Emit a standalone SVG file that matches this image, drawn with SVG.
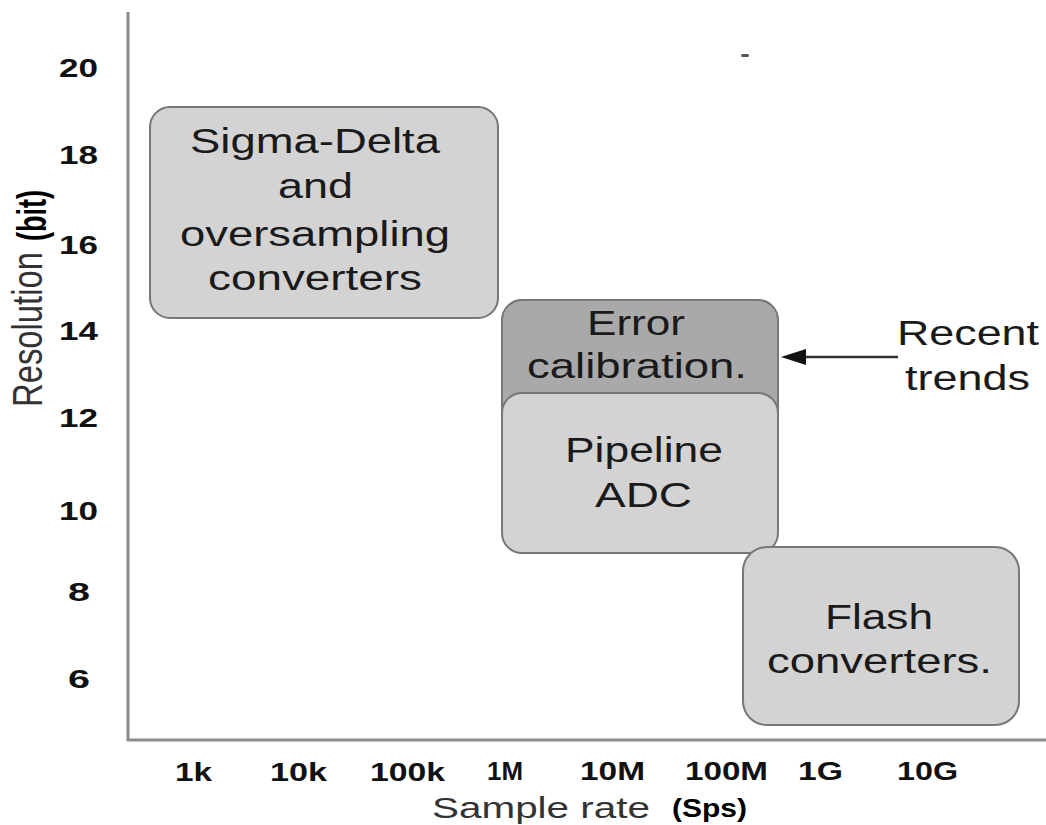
<svg xmlns="http://www.w3.org/2000/svg" width="1046" height="825" viewBox="0 0 1046 825">
<style>
.box{fill:#d3d3d3;stroke:#777;stroke-width:2}
.dark{fill:#a9a9a9}
.bt{font-family:"Liberation Sans",Arial,sans-serif;font-size:35px;fill:#1a1a1a}
.tick{font-family:"Liberation Sans",Arial,sans-serif;font-size:26px;font-weight:bold;fill:#111}
.axis{stroke:#8c8c8c;stroke-width:3;fill:none}
.lbl{font-family:"Liberation Sans",Arial,sans-serif;font-size:29px;fill:#333}
.lblb{font-family:"Liberation Sans",Arial,sans-serif;font-weight:bold;fill:#000}
</style>
<rect width="1046" height="825" fill="#fff"/>
<g id="axes">
<line class="axis" x1="128" y1="12" x2="128" y2="741"/>
<line class="axis" x1="127" y1="740" x2="1046" y2="740"/>
<rect x="741" y="54" width="8" height="3" rx="1.5" fill="#555"/>
</g>
<g id="y-ticks">
<text class="tick" x="59" y="77" textLength="39" lengthAdjust="spacingAndGlyphs">20</text>
<text class="tick" x="59" y="164" textLength="39" lengthAdjust="spacingAndGlyphs">18</text>
<text class="tick" x="59" y="254" textLength="39" lengthAdjust="spacingAndGlyphs">16</text>
<text class="tick" x="59" y="340" textLength="39" lengthAdjust="spacingAndGlyphs">14</text>
<text class="tick" x="59" y="427" textLength="39" lengthAdjust="spacingAndGlyphs">12</text>
<text class="tick" x="59" y="520" textLength="39" lengthAdjust="spacingAndGlyphs">10</text>
<text class="tick" x="68" y="601" textLength="22" lengthAdjust="spacingAndGlyphs">8</text>
<text class="tick" x="68" y="688" textLength="22" lengthAdjust="spacingAndGlyphs">6</text>
</g>
<g id="x-ticks">
<text class="tick" x="175" y="781" textLength="37" lengthAdjust="spacingAndGlyphs">1k</text>
<text class="tick" x="270" y="781" textLength="57" lengthAdjust="spacingAndGlyphs">10k</text>
<text class="tick" x="370" y="781" textLength="75" lengthAdjust="spacingAndGlyphs">100k</text>
<text class="tick" x="487" y="780" textLength="36" lengthAdjust="spacingAndGlyphs">1M</text>
<text class="tick" x="580" y="780" textLength="65" lengthAdjust="spacingAndGlyphs">10M</text>
<text class="tick" x="685" y="780" textLength="83" lengthAdjust="spacingAndGlyphs">100M</text>
<text class="tick" x="798" y="780" textLength="45" lengthAdjust="spacingAndGlyphs">1G</text>
<text class="tick" x="897" y="780" textLength="61" lengthAdjust="spacingAndGlyphs">10G</text>
</g>
<g id="axis-titles">
<text class="lbl" x="432" y="818" textLength="218" lengthAdjust="spacingAndGlyphs">Sample rate</text>
<text class="lblb" x="672" y="817" font-size="26" textLength="75" lengthAdjust="spacingAndGlyphs">(Sps)</text>
<text class="lbl" transform="translate(42,407) rotate(-90) scale(1,1.3)" textLength="155" lengthAdjust="spacingAndGlyphs" style="font-size:32px">Resolution</text>
<text class="lblb" font-size="27" transform="translate(46,241) rotate(-90) scale(1,1.5)" textLength="51" lengthAdjust="spacingAndGlyphs">(bit)</text>
</g>
<g id="sigma-delta">
<rect class="box" x="150" y="107" width="348" height="211" rx="20"/>
<text class="bt" x="190" y="153" textLength="250" lengthAdjust="spacingAndGlyphs">Sigma-Delta</text>
<text class="bt" x="278" y="198" textLength="75" lengthAdjust="spacingAndGlyphs">and</text>
<text class="bt" x="180" y="246" textLength="270" lengthAdjust="spacingAndGlyphs">oversampling</text>
<text class="bt" x="208" y="290" textLength="214" lengthAdjust="spacingAndGlyphs">converters</text>
</g>
<g id="error-calibration">
<rect class="box dark" x="502" y="300" width="276" height="150" rx="20"/>
<text class="bt" x="587" y="335" textLength="98" lengthAdjust="spacingAndGlyphs">Error</text>
<text class="bt" x="527" y="378" textLength="220" lengthAdjust="spacingAndGlyphs">calibration.</text>
</g>
<g id="pipeline-adc">
<rect class="box" x="502" y="393" width="276" height="160" rx="20"/>
<text class="bt" x="565" y="462" textLength="158" lengthAdjust="spacingAndGlyphs">Pipeline</text>
<text class="bt" x="595" y="507" textLength="97" lengthAdjust="spacingAndGlyphs">ADC</text>
</g>
<g id="flash">
<rect class="box" x="743" y="547" width="276" height="178" rx="24"/>
<text class="bt" x="825" y="629" textLength="108" lengthAdjust="spacingAndGlyphs">Flash</text>
<text class="bt" x="767" y="673" textLength="225" lengthAdjust="spacingAndGlyphs">converters.</text>
</g>
<g id="recent-trends">
<text class="bt" x="897" y="345" textLength="142" lengthAdjust="spacingAndGlyphs">Recent</text>
<text class="bt" x="905" y="390" textLength="125" lengthAdjust="spacingAndGlyphs">trends</text>
</g>
<g id="connectors">
<line x1="898" y1="357" x2="804" y2="357" stroke="#333" stroke-width="2.5"/>
<polygon points="781,357 806,349 806,365" fill="#111"/>
</g>
</svg>
